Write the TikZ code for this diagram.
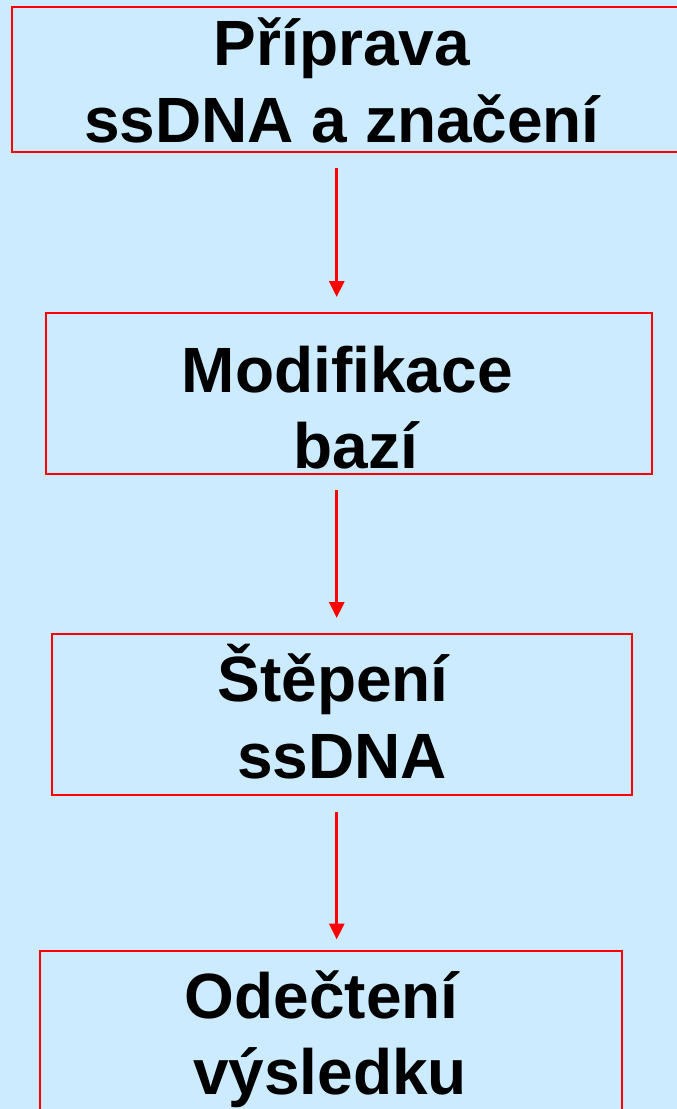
\documentclass[tikz,border=0pt]{standalone}
\usepackage{fontspec}
\setmainfont{Liberation Sans}
\usetikzlibrary{arrows.meta}
\definecolor{bgblue}{RGB}{204,235,255}
\definecolor{boxred}{RGB}{255,0,0}
\begin{document}
\begin{tikzpicture}[x=1pt,y=-1pt,
  stepbox/.style={draw=boxred, line width=2pt, rectangle, inner sep=0pt, outer sep=0pt},
  label/.style={anchor=base, inner sep=0pt, font=\fontsize{64}{76}\selectfont\bfseries},
  flow/.style={draw=boxred, line width=3pt, -{Triangle[width=15pt,length=16pt]}}]
\useasboundingbox (0,0) rectangle (677,1109);
\clip (0,0) rectangle (677,1109);
\fill[bgblue] (0,0) rectangle (677,1109);
% boxes
\node[stepbox, minimum width=678.5pt, minimum height=145pt] (b1) at (350.75,79.8) {};
\node[stepbox, minimum width=606.6pt, minimum height=160.7pt] (b2) at (349,393.65) {};
\node[stepbox, minimum width=580pt, minimum height=160.7pt] (b3) at (342.3,714.65) {};
\node[stepbox, minimum width=581.7pt, minimum height=160.7pt] (b4) at (330.85,1031.05) {};
% texts
\node[label] (t1a) at (342,65) {Příprava};
\node[label] (t1b) at (342,142) {ssDNA a značení};
\node[label] (t2a) at (347.3,392.3) {Modifikace};
\node[label] (t2b) at (356,468.3) {bazí};
\node[label] (t3a) at (333,701.7) {Štěpení};
\node[label] (t3b) at (342,778.3) {ssDNA};
\node[label] (t4a) at (321.7,1018) {Odečtení};
\node[label] (t4b) at (330,1094) {výsledku};
% arrows
\coordinate (a1s) at (336.7,168);
\coordinate (a1e) at (336.7,297);
\coordinate (a2s) at (336.7,490);
\coordinate (a2e) at (336.7,618);
\coordinate (a3s) at (336.7,812);
\coordinate (a3e) at (336.7,939.5);
\draw[flow] (a1s) -- (a1e);
\draw[flow] (a2s) -- (a2e);
\draw[flow] (a3s) -- (a3e);
\end{tikzpicture}
\end{document}
